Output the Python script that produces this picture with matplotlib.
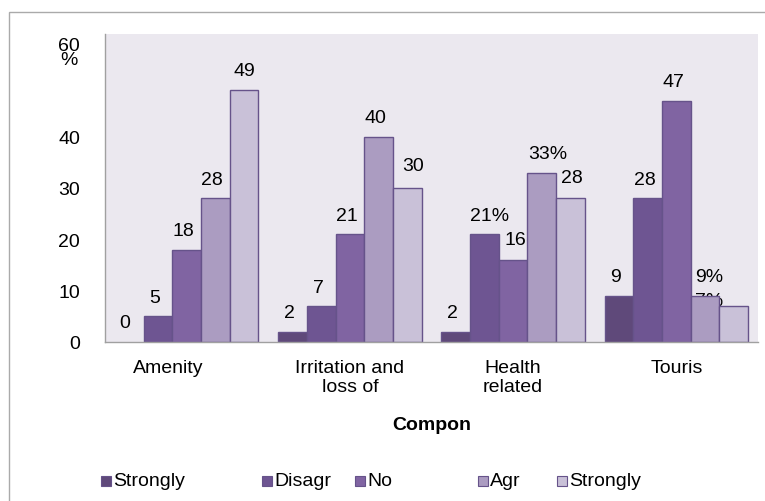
import numpy as np
import matplotlib.pyplot as plt
import matplotlib.transforms as mtransforms
from matplotlib.patches import Rectangle

plt.rcParams['font.family'] = ['Liberation Sans', 'DejaVu Sans']

# data
categories = ['Amenity', 'Irritation and\nloss of', 'Health\nrelated', 'Touris']
series = ['Strongly', 'Disagr', 'No', 'Agr', 'Strongly']
amenity = [0, 5, 18, 28, 49]
irritation = [2, 7, 21, 40, 30]
health = [2, 21, 16, 33, 28]
tourism = [9, 28, 47, 9, 7]
bar_labels = [['0', '5', '18', '28', '49'],
              ['2', '7', '21', '40', '30'],
              ['2', '21%', '16', '33%', '28'],
              ['9', '28', '47', '9%', '7%']]
yticks = [0, 10, 20, 30, 40, 60]
ytick_labels = ['0', '10', '20', '30', '40', '60\n%']

colors = ['#5f497a', '#6e5592', '#8064a2', '#ab9cc1', '#c9c1d8']
edge = '#66538a'
fs = 14

values = np.array([amenity, irritation, health, tourism])

W, H = 765, 502
fig = plt.figure(figsize=(W / 100, H / 100), dpi=100)
ax = fig.add_axes([105 / W, 1 - 343 / H, (758 - 105) / W, (343 - 35) / H])
ax.set_facecolor('#ebe8ef')

x = np.arange(len(categories))
width = 0.176
for j in range(len(series)):
    v = values[:, j]
    ax.bar(x + (j - 2) * width, v, width, color=colors[j],
           edgecolor=[edge if h > 0 else 'none' for h in v], linewidth=1, zorder=2)

# data labels, nudged like the original
nudge = {(0, 0): (-4.5, 19), (0, 4): (0, 20), (1, 4): (6, 22),
         (2, 1): (5, 19), (2, 2): (2, 20), (2, 3): (6, 19), (2, 4): (1, 21),
         (3, 3): (4, 19), (3, 4): (-25, 6)}
for i in range(len(categories)):
    for j in range(len(series)):
        dx, dy = nudge.get((i, j), (-3, 19))
        ax.annotate(bar_labels[i][j], (x[i] + (j - 2) * width, values[i, j]),
                    xytext=(dx, dy), textcoords='offset pixels',
                    ha='center', va='center', fontsize=fs,
                    zorder=1.5 if (i, j) == (3, 4) else 3)

ax.set_xlim(-0.5, 3.5)
ax.set_ylim(0, 60)
ax.set_yticks(yticks)
ax.set_yticklabels(ytick_labels, fontsize=fs)
ax.set_xticks(x)
ax.set_xticklabels(categories, fontsize=fs, linespacing=1.2)
ax.tick_params(axis='both', length=0)
ax.tick_params(axis='y', pad=18)
ax.tick_params(axis='x', pad=12)
top_lab = ax.get_yticklabels()[-1]
top_lab.set_va('top')
top_lab.set_linespacing(0.8)
top_lab.set_multialignment('center')
top_lab.set_transform(top_lab.get_transform() +
                      mtransforms.ScaledTranslation(0, -3 / 100, fig.dpi_scale_trans))
first = ax.get_xticklabels()[0]
first.set_transform(first.get_transform() +
                    mtransforms.ScaledTranslation(-18 / 100, 0, fig.dpi_scale_trans))

for s in ['top', 'right']:
    ax.spines[s].set_visible(False)
for s in ['left', 'bottom']:
    ax.spines[s].set_color('#a0a0a0')
    ax.spines[s].set_linewidth(1)

fig.text(431.5 / W, 1 - 425 / H, 'Compon', fontsize=fs, fontweight='bold',
         ha='center', va='center')

# legend laid out like the source
legend_x = [101, 262, 355, 478, 557]
for j, name in enumerate(series):
    lx = legend_x[j]
    fig.add_artist(Rectangle((lx / W, 1 - 487 / H), 10 / W, 10 / H,
                             transform=fig.transFigure, facecolor=colors[j],
                             edgecolor=edge, linewidth=0.8))
    fig.text((lx + 12) / W, 1 - 482 / H, name, fontsize=fs, ha='left', va='center')

# outer chart frame
fig.add_artist(Rectangle((9 / W, -0.1), 1.2, 1.1 - 13 / H, transform=fig.transFigure,
                         fill=False, edgecolor='#aaaaaa', linewidth=1))

fig.savefig('out.png', dpi=100)
